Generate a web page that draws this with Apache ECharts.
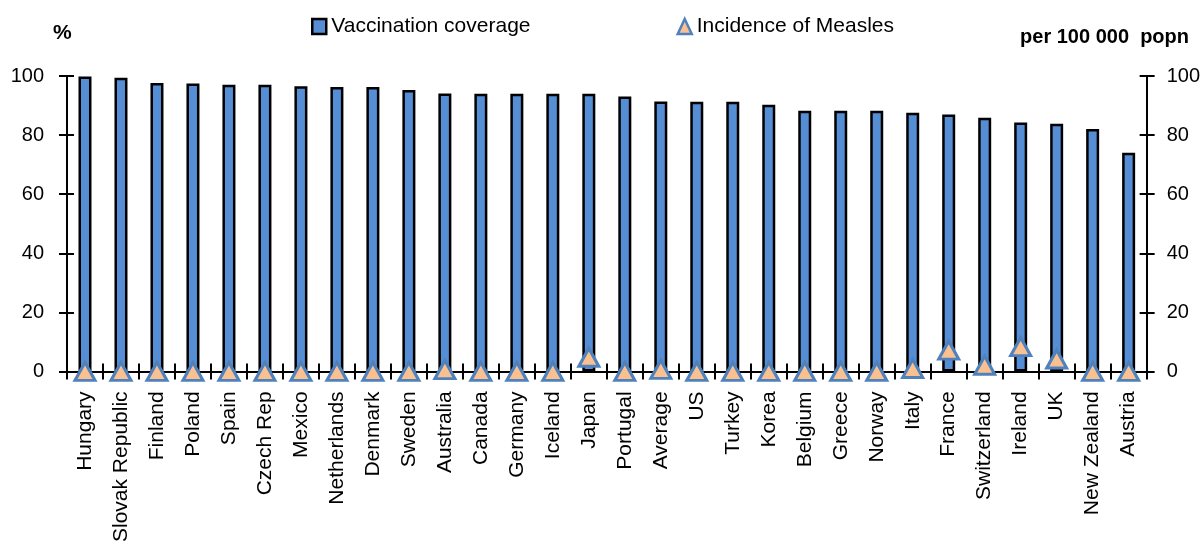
<!DOCTYPE html>
<html>
<head>
<meta charset="utf-8">
<script src="https://cdn.jsdelivr.net/npm/echarts@6/dist/echarts.min.js"></script>
<style>
  html, body { margin: 0; padding: 0; background: #fff; }
  #chart { width: 1203px; height: 545px; }
</style>
</head>
<body>
<div id="chart"></div>
<script>
// Countries, ordered by vaccination coverage
const countries = ['Hungary', 'Slovak Republic', 'Finland', 'Poland', 'Spain', 'Czech Rep', 'Mexico',
  'Netherlands', 'Denmark', 'Sweden', 'Australia', 'Canada', 'Germany', 'Iceland', 'Japan', 'Portugal',
  'Average', 'US', 'Turkey', 'Korea', 'Belgium', 'Greece', 'Norway', 'Italy', 'France', 'Switzerland',
  'Ireland', 'UK', 'New Zealand', 'Austria'];

// Measles vaccination coverage, %
const coverage = [99.8, 99.4, 97.6, 97.5, 97.0, 97.0, 96.5, 96.3, 96.3, 95.3, 94.1, 94.0, 94.0, 94.0, 94.0,
  93.1, 91.4, 91.3, 91.3, 90.3, 88.2, 88.2, 88.2, 87.6, 87.0, 85.9, 84.3, 83.8, 82.1, 74.0];

// Incidence of measles, per 100 000 population
const incidence = [0, 0, 0, 0, 0, 0, 0, 0, 0, 0, 0.6, 0, 0, 0, 4.8, 0,
  0.7, 0, 0, 0, 0, 0, 0, 1.0, 7.2, 2.1, 8.4, 4.2, 0, 0];

const yTicks = [0, 20, 40, 60, 80, 100];

const FONT = 'Liberation Sans, Arial, sans-serif';
const BAR_BLUE = '#558ED5';
const TRI_FILL = '#FAC090';
const TRI_EDGE = '#4F81BD';

const chart = echarts.init(document.getElementById('chart'), null, { renderer: 'canvas' });

const tickStyle = { color: '#000', width: 2 };

const valueAxisBase = {
  type: 'value',
  min: yTicks[0],
  max: yTicks[yTicks.length - 1],
  interval: 20,
  splitLine: { show: false },
  axisLine: { show: true, lineStyle: { color: '#000', width: 2 } },
  axisTick: { show: true, length: 8, lineStyle: tickStyle },
  axisLabel: { color: '#000', fontFamily: FONT, fontSize: 20 }
};

// inner half of the ticks that cross each value axis
const innerTicks = {
  axisLabel: { show: false },
  axisLine: { show: false },
  axisTick: { show: true, inside: true, length: 7, lineStyle: tickStyle }
};

const option = {
  animation: false,
  textStyle: { fontFamily: FONT },
  grid: { left: 67, right: 56, top: 76, bottom: 171, containLabel: false },
  legend: {
    left: 311,
    top: 16,
    padding: 0,
    itemGap: 146,
    itemWidth: 14,
    itemHeight: 15,
    textStyle: { color: '#000', fontFamily: FONT, fontSize: 21 },
    data: [
      { name: 'Vaccination coverage', icon: 'rect', itemStyle: { color: BAR_BLUE, borderColor: '#000', borderWidth: 2.5 } },
      { name: 'Incidence of Measles', icon: 'triangle', itemStyle: { color: TRI_FILL, borderColor: TRI_EDGE, borderWidth: 2.5 } }
    ]
  },
  graphic: [
    { type: 'text', left: 53, top: 23, style: { text: '%', font: 'bold 21px ' + FONT, fill: '#000' } },
    { type: 'text', right: 14, top: 27, style: { text: 'per 100 000  popn', font: 'bold 20px ' + FONT, fill: '#000' } }
  ],
  xAxis: [
    {
      type: 'category',
      data: countries,
      axisLine: { show: true, lineStyle: { color: '#000', width: 2 } },
      axisTick: { show: true, interval: 0, length: 8, lineStyle: tickStyle },
      axisLabel: { rotate: 90, interval: 0, margin: 20, color: '#000', fontFamily: FONT, fontSize: 21 }
    },
    {
      // inner half of the crossing category ticks
      type: 'category',
      data: countries,
      position: 'bottom',
      axisLine: { show: false },
      axisTick: { show: true, interval: 0, inside: true, length: 8, lineStyle: tickStyle },
      axisLabel: { show: false }
    }
  ],
  yAxis: [
    Object.assign({}, valueAxisBase, { position: 'left', axisLabel: Object.assign({}, valueAxisBase.axisLabel, { margin: 23 }) }),
    Object.assign({}, valueAxisBase, { position: 'right', axisLabel: Object.assign({}, valueAxisBase.axisLabel, { margin: 20 }) }),
    Object.assign({}, valueAxisBase, { position: 'left' }, innerTicks),
    Object.assign({}, valueAxisBase, { position: 'right' }, innerTicks)
  ],
  series: [
    {
      name: 'Vaccination coverage',
      type: 'bar',
      yAxisIndex: 0,
      data: coverage,
      barWidth: 13,
      itemStyle: { color: BAR_BLUE, borderColor: '#000', borderWidth: 2.5 },
      z: 2
    },
    {
      name: 'Incidence of Measles',
      type: 'scatter',
      yAxisIndex: 1,
      data: incidence,
      symbol: 'triangle',
      symbolSize: [20, 18],
      itemStyle: { color: TRI_FILL, borderColor: TRI_EDGE, borderWidth: 3, opacity: 1 },
      z: 5
    }
  ]
};

chart.setOption(option);
</script>
</body>
</html>
